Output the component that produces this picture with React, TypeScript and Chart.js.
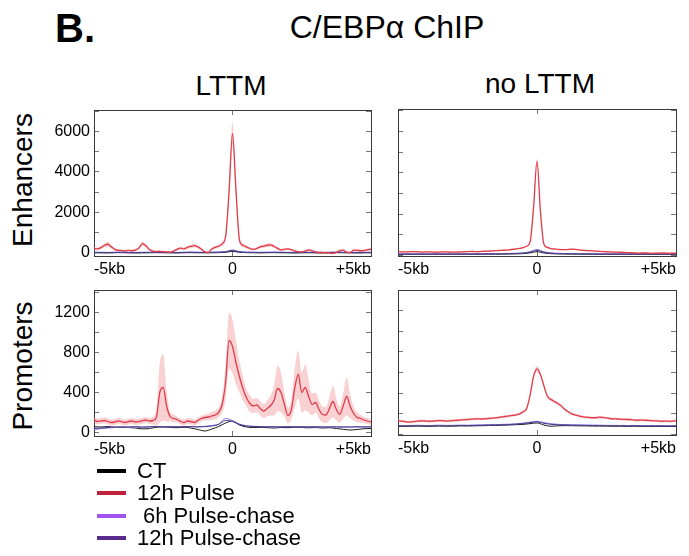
import { useEffect, useRef } from "react";
import { Chart, registerables } from "chart.js";

Chart.register(...registerables);

const FONT = "'Liberation Sans', Arial, Helvetica, sans-serif";
Chart.defaults.font.family = FONT;

// ---------- data ----------
// positions (kb from peak centre)
const X_FINE = [
  -5, -4.875, -4.75, -4.625, -4.5, -4.375, -4.25, -4.125,
  -4, -3.875, -3.75, -3.625, -3.5, -3.375, -3.25, -3.125,
  -3, -2.875, -2.75, -2.625, -2.5, -2.375, -2.25, -2.125,
  -2, -1.875, -1.75, -1.625, -1.5, -1.375, -1.25, -1.125,
  -1, -0.875, -0.75, -0.625, -0.5, -0.375, -0.25, -0.125,
  0,
  0.125, 0.25, 0.375, 0.5, 0.625, 0.75, 0.875, 1,
  1.125, 1.25, 1.375, 1.5, 1.625, 1.75, 1.875, 2,
  2.125, 2.25, 2.375, 2.5, 2.625, 2.75, 2.875, 3,
  3.125, 3.25, 3.375, 3.5, 3.625, 3.75, 3.875, 4,
  4.125, 4.25, 4.375, 4.5, 4.625, 4.75, 4.875, 5,
];
const X_COARSE = [
  -5, -4.75, -4.5, -4.25, -4, -3.75, -3.5, -3.25, -3, -2.75,
  -2.5, -2.25, -2, -1.75, -1.5, -1.25, -1, -0.75, -0.5, -0.25,
  0,
  0.25, 0.5, 0.75, 1, 1.25, 1.5, 1.75, 2, 2.25, 2.5,
  2.75, 3, 3.25, 3.5, 3.75, 4, 4.25, 4.5, 4.75, 5,
];
const X_TICKS = [-5, 0, 5];
const X_TICK_LABELS = ["-5kb", "0", "+5kb"];

const Y_TICKS_ENH = [0, 1000, 2000, 3000, 4000, 5000, 6000, 7000];
const Y_LABELS_ENH = ["0", "", "2000", "", "4000", "", "6000", ""];
const Y_TICKS_PROM = [0, 200, 400, 600, 800, 1000, 1200, 1400];
const Y_LABELS_PROM = ["0", "", "400", "", "800", "", "1200", ""];

const SERIES_NAMES = ["CT", "12h Pulse", "6h Pulse-chase", "12h Pulse-chase"];
const LEGEND_COLORS = ["#000000", "#c0213a", "#a452ee", "#5a2a8c"];
const LINE_COLORS = ["#1a1a1a", "#e03c4a", "#8c78d8", "#463a8e"];
const BAND_COLOR = "rgba(238, 135, 140, 0.38)";

// Enhancers / LTTM
const TL_RED = [
  230, 200, 260, 380, 430, 300, 180, 130,
  120, 100, 130, 110, 150, 250, 460, 350,
  170, 90, 70, 80, 60, 50, 40, 90,
  180, 240, 200, 280, 320, 360, 300, 190,
  60, 20, 200, 280, 330, 450, 800, 3000,
  5900,
  3100, 650, 380, 300, 220, 180, 220, 300,
  340, 380, 400, 320, 230, 150, 180, 200,
  160, 90, 60, 50, 90, 150, 110, 50,
  30, 20, 10, 0, -20, 30, 110, 140,
  30, 20, 140, 130, 110, 120, 160, 180,
];
const TL_BAND = [
  70, 70, 80, 100, 120, 90, 60, 50,
  50, 50, 50, 50, 60, 80, 110, 90,
  60, 50, 50, 50, 50, 50, 50, 50,
  60, 70, 70, 80, 90, 90, 80, 60,
  50, 50, 60, 70, 80, 100, 200, 400,
  550,
  400, 180, 100, 70, 60, 60, 60, 70,
  80, 90, 90, 80, 70, 60, 60, 60,
  50, 50, 50, 50, 50, 60, 50, 50,
  50, 50, 50, 50, 50, 50, 60, 60,
  50, 50, 60, 60, 50, 50, 60, 70,
];
const TL_CT = [10, 5, 0, 12, 15, 6, 0, 4, 10, 16, 9, 5, 0, 11, 14, 10, 6, 9, 15, 30, 80, 30, 15, 10, 4, 11, 15, 9, 5, 0, 6, 10, 4, 0, 9, 15, 10, 6, 0, 5, 10];
const TL_PC6 = [40, 36, 30, 41, 45, 34, 30, 36, 40, 44, 41, 35, 30, 39, 46, 40, 35, 41, 50, 70, 150, 70, 45, 39, 35, 41, 45, 40, 34, 30, 36, 40, 35, 30, 40, 44, 41, 35, 30, 36, 40];
const TL_PC12 = [25, 21, 15, 24, 30, 20, 15, 21, 25, 29, 24, 20, 15, 26, 30, 24, 20, 25, 35, 55, 120, 55, 30, 25, 20, 24, 30, 25, 19, 15, 21, 25, 20, 15, 25, 31, 24, 20, 15, 20, 25];

// Enhancers / no LTTM
const TR_RED = [
  190, 180, 175, 180, 195, 190, 180, 170,
  175, 180, 170, 165, 170, 180, 175, 170,
  165, 170, 175, 180, 190, 200, 195, 190,
  200, 210, 215, 225, 235, 245, 255, 265,
  280, 300, 320, 345, 380, 450, 650, 2300,
  4550,
  2100, 550, 400, 340, 320, 300, 290, 285,
  295, 310, 300, 280, 260, 245, 235, 225,
  215, 205, 195, 185, 180, 170, 165, 160,
  150, 145, 140, 130, 120, 125, 130, 120,
  110, 115, 120, 125, 120, 110, 115, 120,
];
const TR_BAND = [
  30, 30, 30, 30, 30, 30, 30, 30,
  30, 30, 30, 30, 30, 30, 30, 30,
  30, 30, 30, 30, 30, 30, 30, 30,
  30, 30, 30, 30, 30, 30, 30, 30,
  30, 30, 30, 30, 35, 40, 60, 120,
  150,
  120, 60, 40, 35, 30, 30, 30, 30,
  30, 30, 30, 30, 30, 30, 30, 30,
  30, 30, 30, 30, 30, 30, 30, 30,
  30, 30, 30, 30, 30, 30, 30, 30,
  30, 30, 30, 30, 30, 30, 30, 30,
];
const TR_CT = [60, 58, 62, 60, 57, 60, 63, 61, 58, 60, 62, 64, 63, 66, 68, 70, 75, 82, 95, 130, 190, 125, 92, 80, 74, 70, 68, 66, 64, 62, 60, 61, 59, 58, 60, 58, 56, 57, 58, 56, 57];
const TR_PC6 = [85, 83, 86, 84, 82, 85, 88, 86, 84, 86, 88, 90, 90, 93, 95, 98, 104, 112, 130, 190, 300, 185, 128, 110, 102, 97, 94, 92, 90, 88, 86, 87, 85, 84, 86, 84, 82, 83, 84, 82, 83];
const TR_PC12 = [75, 73, 76, 74, 72, 75, 78, 76, 74, 76, 78, 80, 80, 83, 85, 88, 94, 102, 118, 165, 250, 160, 115, 98, 92, 87, 84, 82, 80, 78, 76, 77, 75, 74, 76, 74, 72, 73, 74, 72, 73];

// Promoters / LTTM
const BL_RED = [
  125, 110, 115, 120, 110, 100, 105, 115,
  108, 100, 110, 115, 105, 110, 118, 125,
  115, 120, 150, 400, 450, 260, 160, 140,
  130, 110, 100, 115, 110, 100, 120, 140,
  150, 155, 165, 175, 200, 280, 500, 920,
  860,
  700, 560, 440, 350, 290, 265, 275, 240,
  215, 240, 270, 320, 440, 400, 280, 170,
  230, 450, 580, 400, 450, 360, 280, 300,
  230, 180, 175, 240, 310, 230, 180, 270,
  360, 260, 190, 150, 140, 125, 115, 105,
];
const BL_BAND = [
  30, 30, 30, 30, 30, 30, 30, 30,
  30, 30, 30, 30, 30, 30, 30, 30,
  30, 40, 80, 300, 330, 150, 50, 40,
  30, 30, 30, 30, 30, 30, 30, 30,
  30, 35, 40, 45, 50, 80, 180, 280,
  270,
  220, 160, 120, 90, 80, 70, 70, 70,
  70, 80, 100, 150, 230, 200, 120, 80,
  100, 200, 240, 200, 230, 160, 110, 100,
  90, 80, 80, 120, 160, 110, 80, 130,
  190, 120, 70, 50, 40, 30, 30, 30,
];
const BL_CT = [58, 55, 60, 52, 56, 50, 45, 36, 40, 52, 55, 50, 48, 52, 45, 30, 15, 35, 60, 95, 115, 75, 55, 50, 52, 48, 45, 50, 48, 52, 50, 47, 50, 45, 48, 40, 32, 25, 30, 38, 40];
const BL_PC6 = [30, 38, 45, 50, 55, 52, 55, 50, 56, 60, 58, 55, 60, 57, 60, 58, 62, 70, 85, 140, 120, 85, 68, 62, 60, 58, 55, 58, 60, 57, 55, 58, 56, 54, 57, 55, 53, 56, 54, 55, 56];
const BL_PC12 = [40, 45, 50, 55, 52, 56, 58, 55, 57, 60, 56, 58, 55, 60, 58, 55, 58, 65, 80, 120, 110, 80, 65, 60, 58, 56, 58, 55, 57, 56, 58, 55, 57, 56, 55, 57, 56, 55, 58, 56, 57];

// Promoters / no LTTM
const BR_RED = [
  135, 130, 125, 120, 122, 128, 130, 132,
  130, 128, 130, 132, 135, 133, 130, 132,
  135, 138, 140, 142, 145, 148, 150, 152,
  150, 152, 155, 158, 160, 165, 170, 175,
  180, 185, 190, 200, 220, 250, 380, 560,
  635,
  580, 470, 370, 340, 320, 300, 275, 245,
  220, 200, 190, 180, 172, 168, 165, 162,
  162, 168, 165, 160, 155, 152, 150, 148,
  146, 145, 143, 140, 138, 140, 138, 136,
  134, 132, 130, 128, 130, 127, 130, 132,
];
const BR_BAND = [
  12, 12, 12, 12, 12, 12, 12, 12,
  12, 12, 12, 12, 12, 12, 12, 12,
  12, 12, 12, 12, 12, 12, 12, 12,
  12, 12, 12, 12, 12, 12, 12, 12,
  12, 12, 12, 14, 15, 18, 22, 28,
  30,
  28, 22, 18, 15, 14, 12, 12, 12,
  12, 12, 12, 12, 12, 12, 12, 12,
  12, 12, 12, 12, 12, 12, 12, 12,
  12, 12, 12, 12, 12, 12, 12, 12,
  12, 12, 12, 12, 12, 12, 12, 12,
];
const BR_CT = [80, 79, 80, 81, 79, 80, 82, 80, 81, 83, 82, 84, 85, 87, 88, 90, 92, 95, 98, 105, 112, 92, 80, 84, 86, 85, 84, 83, 82, 82, 81, 80, 80, 79, 80, 79, 78, 79, 78, 77, 78];
const BR_PC6 = [88, 87, 88, 89, 87, 88, 90, 88, 89, 91, 90, 92, 93, 95, 96, 98, 100, 104, 110, 120, 128, 115, 104, 99, 96, 94, 93, 92, 91, 90, 89, 88, 88, 87, 88, 87, 86, 87, 86, 85, 86];
const BR_PC12 = [84, 83, 84, 85, 83, 84, 86, 84, 85, 87, 86, 88, 89, 91, 92, 94, 96, 100, 106, 115, 122, 108, 98, 94, 92, 90, 89, 88, 87, 86, 85, 84, 84, 83, 84, 83, 82, 83, 82, 81, 82];

// ---------- layout ----------
const AX_L = 60; // room for y tick labels
const AX_B = 30; // room for x tick labels
const PAD_T = 6;
const PAD_R = 10;

type PanelCfg = {
  key: string;
  left: number;
  top: number;
  width: number;
  height: number;
  yMin: number;
  yMax: number;
  yTicks: number[];
  yLabels: number[] | string[];
  showY: boolean;
  red: number[];
  band: number[];
  ct: number[];
  pc6: number[];
  pc12: number[];
};

const PANELS: PanelCfg[] = [
  { key: "tl", left: 94, top: 110, width: 277, height: 146, yMin: -150, yMax: 7050, yTicks: Y_TICKS_ENH, yLabels: Y_LABELS_ENH, showY: true, red: TL_RED, band: TL_BAND, ct: TL_CT, pc6: TL_PC6, pc12: TL_PC12 },
  { key: "tr", left: 398, top: 109, width: 278, height: 147, yMin: -20, yMax: 7080, yTicks: Y_TICKS_ENH, yLabels: Y_LABELS_ENH, showY: false, red: TR_RED, band: TR_BAND, ct: TR_CT, pc6: TR_PC6, pc12: TR_PC12 },
  { key: "bl", left: 94, top: 290, width: 277, height: 146, yMin: -35, yMax: 1425, yTicks: Y_TICKS_PROM, yLabels: Y_LABELS_PROM, showY: true, red: BL_RED, band: BL_BAND, ct: BL_CT, pc6: BL_PC6, pc12: BL_PC12 },
  { key: "br", left: 398, top: 290, width: 278, height: 145, yMin: -5, yMax: 1400, yTicks: Y_TICKS_PROM, yLabels: Y_LABELS_PROM, showY: false, red: BR_RED, band: BR_BAND, ct: BR_CT, pc6: BR_PC6, pc12: BR_PC12 },
];

const pts = (xs: number[], ys: number[]) => ys.map((y, i) => ({ x: xs[i], y }));

const noPad = (s: any) => {
  s.paddingTop = 0;
  s.paddingBottom = 0;
  s.paddingLeft = 0;
  s.paddingRight = 0;
};

function Panel({ cfg }: { cfg: PanelCfg }) {
  const ref = useRef<HTMLCanvasElement>(null);
  useEffect(() => {
    if (!ref.current) return;
    const grid = { drawOnChartArea: false, drawTicks: true, tickLength: -5, color: "#777", lineWidth: 1 };
    const border = { color: "#3a3a3a", width: 1 };
    const tickFont = { size: 16, family: FONT };
    const xTickCb = (v: any) => {
      const i = X_TICKS.indexOf(Number(v));
      return i >= 0 ? X_TICK_LABELS[i] : "";
    };
    const yTickCb = (v: any) => {
      if (!cfg.showY) return "";
      const i = cfg.yTicks.indexOf(Number(v));
      return i >= 0 ? String(cfg.yLabels[i]) : "";
    };
    const setXTicks = (s: any) => {
      s.ticks = X_TICKS.map((v) => ({ value: v }));
    };
    const setYTicks = (s: any) => {
      s.ticks = cfg.yTicks.filter((v) => v >= cfg.yMin && v <= cfg.yMax).map((v) => ({ value: v }));
    };
    const upper = cfg.red.map((v, i) => v + cfg.band[i]);
    const lower = cfg.red.map((v, i) => v - cfg.band[i]);
    const line = (label: string, xs: number[], ys: number[], color: string, w: number) => ({
      label,
      data: pts(xs, ys),
      borderColor: color,
      backgroundColor: color,
      borderWidth: w,
      pointRadius: 0,
      fill: false,
      cubicInterpolationMode: "monotone" as const,
      xAxisID: "x",
      yAxisID: "y",
    });
    const chart = new Chart(ref.current, {
      type: "line",
      data: {
        datasets: [
          line(SERIES_NAMES[1], X_FINE, cfg.red, LINE_COLORS[1], 1.3),
          line(SERIES_NAMES[3], X_COARSE, cfg.pc12, LINE_COLORS[3], 1),
          line(SERIES_NAMES[2], X_COARSE, cfg.pc6, LINE_COLORS[2], 1),
          line(SERIES_NAMES[0], X_COARSE, cfg.ct, LINE_COLORS[0], 1),
          { ...line("upper", X_FINE, upper, "transparent", 0), fill: false },
          { ...line("lower", X_FINE, lower, "transparent", 0), fill: "-1", backgroundColor: BAND_COLOR },
        ],
      },
      options: {
        animation: false,
        responsive: false,
        maintainAspectRatio: false,
        events: [],
        layout: { padding: { top: PAD_T, right: PAD_R, left: 0, bottom: 0 } },
        plugins: { legend: { display: false }, tooltip: { enabled: false } },
        scales: {
          x: {
            type: "linear",
            position: "bottom",
            min: -5,
            max: 5,
            afterBuildTicks: setXTicks,
            ticks: { callback: xTickCb, align: "inner", maxRotation: 0, autoSkip: false, font: tickFont, color: "#000", padding: 9 },
            grid,
            border,
            afterFit: (s: any) => { s.height = AX_B; noPad(s); },
          },
          xTop: {
            type: "linear",
            position: "top",
            min: -5,
            max: 5,
            afterBuildTicks: setXTicks,
            ticks: { callback: () => "", maxRotation: 0, autoSkip: false, padding: 0 },
            grid,
            border,
            afterFit: (s: any) => { s.height = 0; noPad(s); },
          },
          y: {
            type: "linear",
            position: "left",
            min: cfg.yMin,
            max: cfg.yMax,
            afterBuildTicks: setYTicks,
            ticks: {
              autoSkip: false,
              callback: yTickCb,
              font: tickFont,
              color: "#000",
              padding: 9,
            },
            grid,
            border,
            afterFit: (s: any) => { s.width = AX_L; noPad(s); },
          },
          yRight: {
            type: "linear",
            position: "right",
            min: cfg.yMin,
            max: cfg.yMax,
            afterBuildTicks: setYTicks,
            ticks: { autoSkip: false, callback: () => "", padding: 0 },
            grid,
            border,
            afterFit: (s: any) => { s.width = 0; noPad(s); },
          },
        },
      } as any,
    });
    return () => chart.destroy();
  }, [cfg]);

  const w = cfg.width + AX_L + PAD_R;
  const h = cfg.height + PAD_T + AX_B;
  return (
    <canvas
      ref={ref}
      width={w}
      height={h}
      style={{ position: "absolute", left: cfg.left - AX_L, top: cfg.top - PAD_T, width: w, height: h }}
    />
  );
}

const centered = (x: number, y: number, size: number, extra: any = {}) => ({
  position: "absolute" as const,
  left: x,
  top: y,
  fontSize: size,
  lineHeight: 1,
  whiteSpace: "pre" as const,
  transform: "translate(-50%, -50%)" + (extra.rotate ? " rotate(-90deg)" : ""),
  fontWeight: extra.bold ? 700 : 400,
  color: "#000",
});

const LEGEND_ROWS_Y = [471, 493, 516, 538];

export default function App() {
  return (
    <div
      style={{
        position: "absolute",
        left: 0,
        top: 0,
        width: 689,
        height: 556,
        background: "#fff",
        overflow: "hidden",
        fontFamily: FONT,
      }}
    >
      <div style={centered(75, 28, 40, { bold: true })}>B.</div>
      <div style={centered(387, 27, 32)}>C/EBPα ChIP</div>
      <div style={centered(231, 86, 28)}>LTTM</div>
      <div style={centered(540, 84, 28)}>no LTTM</div>
      <div style={centered(23, 180, 28, { rotate: true })}>Enhancers</div>
      <div style={centered(23, 366, 28, { rotate: true })}>Promoters</div>
      {PANELS.map((p) => (
        <Panel key={p.key} cfg={p} />
      ))}
      {SERIES_NAMES.map((name, i) => (
        <div key={name}>
          <div
            style={{
              position: "absolute",
              left: 97,
              top: LEGEND_ROWS_Y[i] - 2,
              width: 29,
              height: 4,
              background: LEGEND_COLORS[i],
            }}
          />
          <div
            style={{
              position: "absolute",
              left: name.startsWith("6h") ? 143 : 137,
              top: LEGEND_ROWS_Y[i],
              transform: "translateY(-50%)",
              fontSize: 22,
              lineHeight: 1,
              whiteSpace: "pre",
              color: "#000",
            }}
          >
            {name}
          </div>
        </div>
      ))}
    </div>
  );
}
